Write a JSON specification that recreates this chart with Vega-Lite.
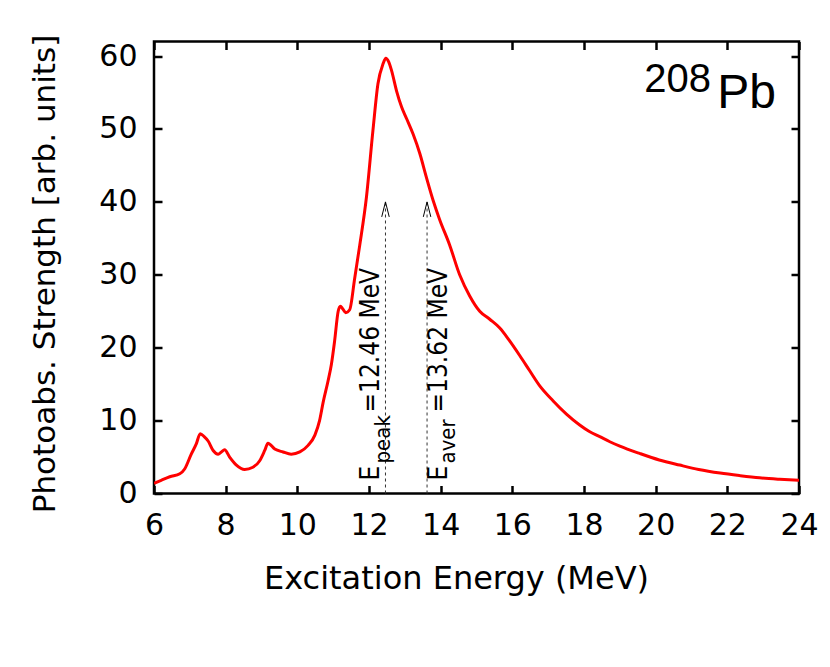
{
  "$schema": "https://vega.github.io/schema/vega-lite/v6.json",
  "autosize": "none",
  "width": 645,
  "height": 452,
  "padding": {"left": 154, "top": 41.5, "right": 31, "bottom": 173.5},
  "background": "white",
  "config": {
    "view": {"stroke": "black", "strokeWidth": 2.5},
    "font": "DejaVu Sans"
  },
  "datasets": {
    "curve": [
      {"energy": 6.0, "strength": 1.4},
      {"energy": 6.2, "strength": 1.8},
      {"energy": 6.44, "strength": 2.3},
      {"energy": 6.72, "strength": 2.7},
      {"energy": 6.86, "strength": 3.4},
      {"energy": 7.04, "strength": 5.4},
      {"energy": 7.18, "strength": 6.8},
      {"energy": 7.29, "strength": 8.2},
      {"energy": 7.4, "strength": 7.8},
      {"energy": 7.51, "strength": 7.2},
      {"energy": 7.65, "strength": 5.9},
      {"energy": 7.79, "strength": 5.4},
      {"energy": 7.88, "strength": 5.7},
      {"energy": 7.97, "strength": 6.0},
      {"energy": 8.11, "strength": 5.0},
      {"energy": 8.3, "strength": 3.9},
      {"energy": 8.53, "strength": 3.3},
      {"energy": 8.76, "strength": 3.6},
      {"energy": 8.95, "strength": 4.5},
      {"energy": 9.09, "strength": 5.9},
      {"energy": 9.18, "strength": 6.9},
      {"energy": 9.37, "strength": 6.1},
      {"energy": 9.6, "strength": 5.7},
      {"energy": 9.83, "strength": 5.4},
      {"energy": 10.07, "strength": 5.7},
      {"energy": 10.3, "strength": 6.6},
      {"energy": 10.49, "strength": 8.0},
      {"energy": 10.62, "strength": 10.0},
      {"energy": 10.72, "strength": 12.5},
      {"energy": 10.86, "strength": 15.5},
      {"energy": 10.95, "strength": 17.7},
      {"energy": 11.04, "strength": 20.9},
      {"energy": 11.14, "strength": 25.0},
      {"energy": 11.2, "strength": 25.7},
      {"energy": 11.27, "strength": 25.3},
      {"energy": 11.35, "strength": 24.8},
      {"energy": 11.46, "strength": 25.2},
      {"energy": 11.6, "strength": 29.5},
      {"energy": 11.74, "strength": 34.0},
      {"energy": 11.93, "strength": 40.7},
      {"energy": 12.11, "strength": 49.8},
      {"energy": 12.25, "strength": 56.2},
      {"energy": 12.39, "strength": 58.9},
      {"energy": 12.47, "strength": 59.7},
      {"energy": 12.55, "strength": 59.2},
      {"energy": 12.63, "strength": 58.0},
      {"energy": 12.77, "strength": 55.2},
      {"energy": 12.91, "strength": 53.0},
      {"energy": 13.05, "strength": 51.4},
      {"energy": 13.23, "strength": 49.3},
      {"energy": 13.42, "strength": 46.6},
      {"energy": 13.6, "strength": 43.4},
      {"energy": 13.79, "strength": 40.2},
      {"energy": 13.97, "strength": 37.6},
      {"energy": 14.25, "strength": 34.1},
      {"energy": 14.53, "strength": 30.0},
      {"energy": 14.81, "strength": 27.1},
      {"energy": 15.09, "strength": 25.0},
      {"energy": 15.37, "strength": 23.9},
      {"energy": 15.65, "strength": 22.7},
      {"energy": 15.93, "strength": 20.9},
      {"energy": 16.21, "strength": 18.9},
      {"energy": 16.49, "strength": 16.8},
      {"energy": 16.76, "strength": 14.8},
      {"energy": 17.14, "strength": 12.7},
      {"energy": 17.51, "strength": 10.9},
      {"energy": 17.88, "strength": 9.4},
      {"energy": 18.15, "strength": 8.5},
      {"energy": 18.44, "strength": 7.8},
      {"energy": 18.72, "strength": 7.1},
      {"energy": 19.0, "strength": 6.5},
      {"energy": 19.55, "strength": 5.5},
      {"energy": 20.1, "strength": 4.6},
      {"energy": 20.67, "strength": 3.9},
      {"energy": 21.2, "strength": 3.3},
      {"energy": 21.8, "strength": 2.8},
      {"energy": 22.35, "strength": 2.45},
      {"energy": 22.9, "strength": 2.15},
      {"energy": 23.46, "strength": 1.95},
      {"energy": 24.0, "strength": 1.8}
    ],
    "markers": [
      {"E": 12.46, "sub": "peak", "val": "=12.46 MeV"},
      {"E": 13.62, "sub": "aver", "val": "=13.62 MeV"}
    ]
  },
  "layer": [
    {
      "data": {"name": "curve"},
      "mark": {"type": "line", "color": "#ff0000", "strokeWidth": 3, "interpolate": "monotone", "clip": true},
      "encoding": {
        "x": {
          "field": "energy", "type": "quantitative",
          "scale": {"domain": [6, 24], "nice": false, "zero": false},
          "axis": {
            "orient": "bottom", "values": [6, 8, 10, 12, 14, 16, 18, 20, 22, 24],
            "grid": false, "domain": false, "tickSize": -8, "tickWidth": 2.5, "tickColor": "black",
            "labelFontSize": 30, "labelColor": "black", "labelPadding": 25, "labelFont": "DejaVu Sans",
            "labelFlush": false,
            "title": "Excitation Energy (MeV)", "titleFontSize": 32, "titleFontWeight": "normal",
            "titleColor": "black", "titleFont": "DejaVu Sans",
            "titleBaseline": "alphabetic", "titleX": 302, "titleY": 95
          }
        },
        "y": {
          "field": "strength", "type": "quantitative",
          "scale": {"domain": [0, 62], "nice": false, "zero": false},
          "axis": {
            "orient": "left", "values": [0, 10, 20, 30, 40, 50, 60],
            "grid": false, "domain": false, "tickSize": -8, "tickWidth": 2.5, "tickColor": "black",
            "labelFontSize": 30, "labelColor": "black", "labelPadding": 25, "labelFont": "DejaVu Sans",
            "labelFlush": false,
            "title": "Photoabs. Strength [arb. units]", "titleFontSize": 31, "titleFontWeight": "normal",
            "titleColor": "black", "titleFont": "DejaVu Sans",
            "titleAngle": 270, "titleBaseline": "middle", "titleX": -109, "titleY": 232
          }
        }
      }
    },
    {
      "data": {"name": "markers"},
      "mark": {"type": "rule", "color": "#333333", "strokeWidth": 1, "strokeDash": [3, 3]},
      "encoding": {
        "x": {"field": "E", "type": "quantitative", "scale": {"domain": [6, 24], "nice": false, "zero": false}, "axis": null},
        "y": {"datum": 0, "type": "quantitative", "scale": {"domain": [0, 62], "nice": false, "zero": false}, "axis": null},
        "y2": {"datum": 40}
      }
    },
    {
      "data": {"name": "markers"},
      "mark": {"type": "point", "shape": "M-0.5,2L0,0L0.5,2", "size": 225, "filled": false, "stroke": "black", "strokeWidth": 1, "opacity": 1},
      "encoding": {
        "x": {
          "field": "E", "type": "quantitative", "scale": {"domain": [6, 24], "nice": false, "zero": false},
          "axis": {"orient": "top", "values": [6, 8, 10, 12, 14, 16, 18, 20, 22, 24], "labels": false, "title": null,
                   "grid": false, "domain": false, "tickSize": -8, "tickWidth": 2.5, "tickColor": "black"}
        },
        "y": {
          "datum": 40, "type": "quantitative", "scale": {"domain": [0, 62], "nice": false, "zero": false},
          "axis": {"orient": "right", "values": [0, 10, 20, 30, 40, 50, 60], "labels": false, "title": null,
                   "grid": false, "domain": false, "tickSize": -8, "tickWidth": 2.5, "tickColor": "black"}
        }
      }
    },
    {
      "data": {"name": "markers"},
      "transform": [{"filter": "datum.sub === 'peak'"}],
      "layer": [
        {"mark": {"type": "text", "text": "E", "angle": 270, "align": "left", "baseline": "alphabetic", "font": "DejaVu Sans Condensed", "fontSize": 26, "dx": 13, "dy": -6, "color": "black"}},
        {"mark": {"type": "text", "angle": 270, "align": "left", "baseline": "alphabetic", "font": "DejaVu Sans Condensed", "fontSize": 22, "dx": 30, "dy": 5, "color": "black"}, "encoding": {"text": {"field": "sub"}}},
        {"mark": {"type": "text", "angle": 270, "align": "left", "baseline": "alphabetic", "font": "DejaVu Sans Condensed", "fontSize": 26, "dx": 81, "dy": -6, "color": "black"}, "encoding": {"text": {"field": "val"}}}
      ],
      "encoding": {
        "x": {"field": "E", "type": "quantitative", "scale": {"domain": [6, 24], "nice": false, "zero": false}, "axis": null},
        "y": {"datum": 0, "type": "quantitative", "scale": {"domain": [0, 62], "nice": false, "zero": false}, "axis": null}
      }
    },
    {
      "data": {"name": "markers"},
      "transform": [{"filter": "datum.sub === 'aver'"}],
      "layer": [
        {"mark": {"type": "text", "text": "E", "angle": 270, "align": "left", "baseline": "alphabetic", "font": "DejaVu Sans Condensed", "fontSize": 26, "dx": 13, "dy": 20, "color": "black"}},
        {"mark": {"type": "text", "angle": 270, "align": "left", "baseline": "alphabetic", "font": "DejaVu Sans Condensed", "fontSize": 22, "dx": 30, "dy": 28, "color": "black"}, "encoding": {"text": {"field": "sub"}}},
        {"mark": {"type": "text", "angle": 270, "align": "left", "baseline": "alphabetic", "font": "DejaVu Sans Condensed", "fontSize": 26, "dx": 81, "dy": 20, "color": "black"}, "encoding": {"text": {"field": "val"}}}
      ],
      "encoding": {
        "x": {"field": "E", "type": "quantitative", "scale": {"domain": [6, 24], "nice": false, "zero": false}, "axis": null},
        "y": {"datum": 0, "type": "quantitative", "scale": {"domain": [0, 62], "nice": false, "zero": false}, "axis": null}
      }
    },
    {
      "data": {"values": [{"mass": "208", "element": "Pb"}]},
      "layer": [
        {"mark": {"type": "text", "align": "right", "baseline": "alphabetic", "font": "Liberation Sans", "fontSize": 40, "dx": -88, "dy": 50, "color": "black"}, "encoding": {"text": {"field": "mass"}}},
        {"mark": {"type": "text", "align": "right", "baseline": "alphabetic", "font": "Liberation Sans", "fontSize": 48, "dx": -23, "dy": 66, "color": "black"}, "encoding": {"text": {"field": "element"}}}
      ],
      "encoding": {
        "x": {"datum": 24, "type": "quantitative", "scale": {"domain": [6, 24], "nice": false, "zero": false}, "axis": null},
        "y": {"datum": 62, "type": "quantitative", "scale": {"domain": [0, 62], "nice": false, "zero": false}, "axis": null}
      }
    }
  ],
  "resolve": {"axis": {"x": "independent", "y": "independent"}}
}
